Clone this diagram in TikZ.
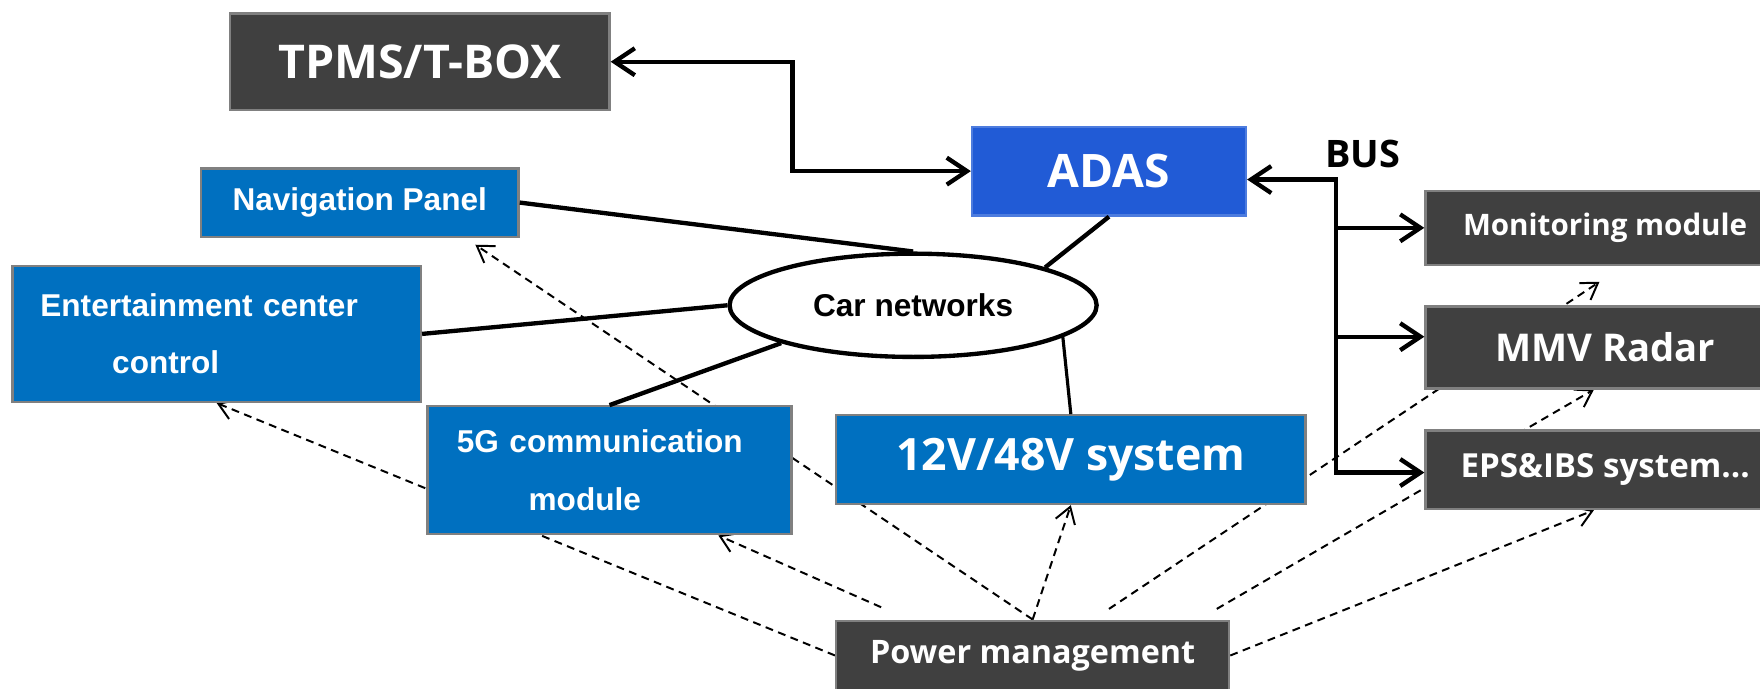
\documentclass[tikz,border=0pt]{standalone}
\usepackage{fontspec}
\setmainfont{Liberation Sans}
\newfontfamily\yhfont{Open Sans}
\usepackage{tikz}
\usetikzlibrary{arrows.meta, shapes.geometric, backgrounds}
\definecolor{pmgray}{RGB}{64,64,64}
\definecolor{netblue}{RGB}{0,112,192}
\definecolor{adasblue}{RGB}{33,91,214}
\definecolor{edgegray}{RGB}{128,128,128}
\tikzstyle{boxdark}=[rectangle, fill=pmgray, draw=edgegray, line width=0.6pt, text=white, inner sep=0pt]
\tikzstyle{boxblue}=[rectangle, fill=netblue, draw=edgegray, line width=0.6pt, text=white, inner sep=0pt]
\tikzstyle{boxadas}=[rectangle, fill=adasblue, draw=adasblue!80!white, line width=0.6pt, text=white, inner sep=0pt]
\tikzstyle{netlink}=[draw=black, line width=1.1pt]
\tikzstyle{arrow}=[draw=black, line width=1.1pt, >={Straight Barb[length=1.8mm,width=2.4mm]}]
\tikzstyle{dasharrow}=[draw=black, line width=0.5pt, dash pattern=on 2pt off 1.4pt, ->, >={Straight Barb[length=1.4mm,width=1.8mm]}]

\begin{document}
\begin{tikzpicture}
	\useasboundingbox (0,0) rectangle (15.68,6.13);
	\begin{scope}
		\node (tpms) at (3.74, 5.58)[boxdark, minimum width=3.38cm, minimum height=0.86cm, font=\yhfont\bfseries\fontsize{11.8}{14}\selectfont] {TPMS/T-BOX};
		\node (adas) at (9.88, 4.605)[boxadas, minimum width=2.44cm, minimum height=0.79cm, font=\yhfont\bfseries\fontsize{11.7}{14}\selectfont] {ADAS};
		\node (bus) at (12.14, 4.76)[font=\yhfont\bfseries\fontsize{9.6}{11}\selectfont] {BUS};
		\node (nav) at (3.205, 4.325)[boxblue, minimum width=2.83cm, minimum height=0.61cm, font=\bfseries\fontsize{8}{10}\selectfont] {Navigation Panel};
		\node (ent) at (1.93, 3.155)[boxblue, minimum width=3.64cm, minimum height=1.21cm, text width=3.14cm, inner xsep=0.25cm, align=left, font=\bfseries\fontsize{8}{14.5}\selectfont] {Entertainment center\\\hspace*{0.64cm}control};
		\node (g5) at (5.43, 1.94)[boxblue, minimum width=3.24cm, minimum height=1.14cm, text width=2.72cm, inner xsep=0.26cm, align=left, font=\bfseries\fontsize{8}{14.5}\selectfont] {5G communication\\\hspace*{0.64cm}module};
		\node (v12) at (9.54, 2.035)[boxblue, minimum width=4.18cm, minimum height=0.79cm, font=\yhfont\bfseries\fontsize{11.3}{13}\selectfont] {12V/48V system};
		\node (pm) at (9.20, 0.29)[boxdark, minimum width=3.50cm, minimum height=0.62cm, font=\yhfont\bfseries\fontsize{8.2}{10}\selectfont] {Power management};
		\node (mon) at (14.30, 4.10)[boxdark, minimum width=3.20cm, minimum height=0.66cm, font=\yhfont\bfseries\fontsize{7.5}{9}\selectfont] {Monitoring module};
		\node (mmv) at (14.30, 3.035)[boxdark, minimum width=3.20cm, minimum height=0.73cm, font=\yhfont\bfseries\fontsize{9.7}{12}\selectfont] {MMV Radar};
		\node (eps) at (14.30, 1.945)[boxdark, minimum width=3.20cm, minimum height=0.70cm, font=\yhfont\bfseries\fontsize{8.4}{10}\selectfont] {EPS\&IBS system...};
		\node (net) at (8.135, 3.41)[ellipse, draw=black, line width=1.1pt, fill=white, inner sep=0pt, minimum width=3.27cm, minimum height=0.92cm, font=\bfseries\fontsize{8}{10}\selectfont] {Car networks};
		\coordinate (bustop) at (11.90, 4.53);
		\coordinate (busbot) at (11.90, 1.92);
		\coordinate (jmon) at (11.90, 4.10);
		\coordinate (jmmv) at (11.90, 3.13);
		\coordinate (pb) at (7.85, 0.72);
		\coordinate (pe) at (9.88, 0.705);
		\coordinate (pf) at (10.84, 0.705);
	\end{scope}
	\begin{scope}
		\path [arrow, <->] (tpms.east) -- ++(1.62,0) |- (adas.west);
		\path [arrow, <->] (bustop -| adas.east) -- (bustop) -- (busbot) -- (busbot -| eps.west);
		\path [arrow, ->] (jmon) -- (mon.west);
		\path [arrow, ->] (jmmv) -- (jmmv -| mmv.west);
		\path [netlink] (nav.east) edge (net.north);
		\path [netlink] (ent.east) edge (net.west);
		\path [netlink] (g5.north) edge (net.196);
		\path [netlink] (adas.south) edge (net.16);
		\path [netlink, line width=0.8pt] (net.348) edge (v12.north);
	\end{scope}
	\begin{scope}[on background layer]
		\path [dasharrow] (pm.west) -- (ent.south);
		\path [dasharrow] (pb) -- ([xshift=0.97cm]g5.south);
		\path [dasharrow] (pm.north) -- ([xshift=1.03cm,yshift=-0.06cm]nav.south);
		\path [dasharrow] (pm.north) -- (v12.south);
		\path [dasharrow] (pe) -- ([xshift=-0.05cm,yshift=-0.14cm]mon.south);
		\path [dasharrow] (pf) -- ([xshift=-0.10cm]mmv.south);
		\path [dasharrow] (pm.east) -- ([xshift=-0.10cm]eps.south);
	\end{scope}
\end{tikzpicture}
\end{document}
